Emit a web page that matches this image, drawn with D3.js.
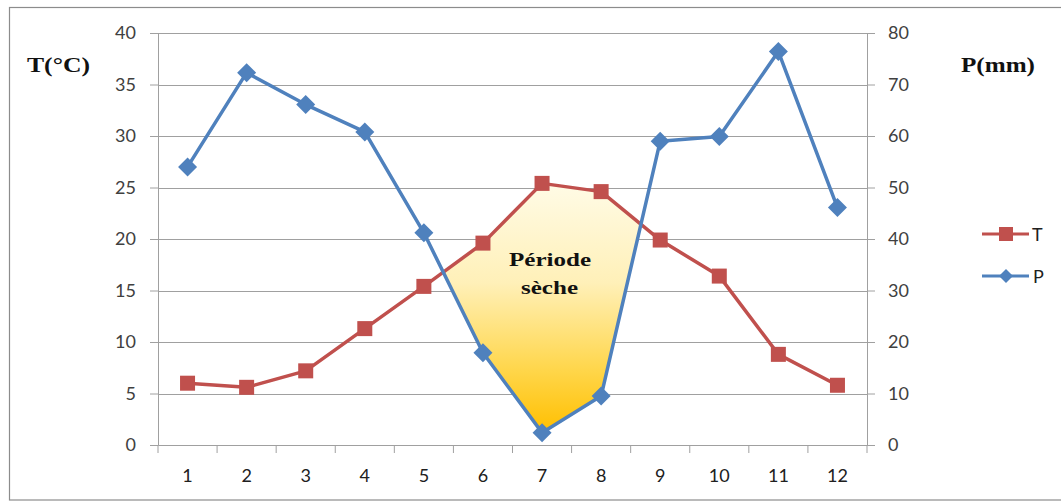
<!DOCTYPE html>
<html>
<head>
<meta charset="utf-8">
<script src="https://cdn.jsdelivr.net/npm/d3@7/dist/d3.min.js"></script>
<style>
  html, body { margin: 0; padding: 0; background: #fff; }
  svg { display: block; }
</style>
</head>
<body>
<svg id="chart" width="1061" height="502"></svg>
<script>
// Monthly climate data: temperature (°C) and precipitation (mm)
const months = [1, 2, 3, 4, 5, 6, 7, 8, 9, 10, 11, 12];
const temperature = [6.0, 5.6, 7.2, 11.3, 15.4, 19.6, 25.4, 24.6, 19.9, 16.4, 8.8, 5.8];
const precipitation = [54.0, 72.3, 66.1, 60.8, 41.2, 17.9, 2.4, 9.5, 59.0, 59.9, 76.4, 46.1];
const tempTicks = [0, 5, 10, 15, 20, 25, 30, 35, 40];
const precipTicks = [0, 10, 20, 30, 40, 50, 60, 70, 80];

const svg = d3.select("#chart");
const plotLeft = 158, plotRight = 867, plotTop = 33, plotBottom = 445;

const x = d3.scaleBand().domain(months).range([plotLeft, plotRight]);
const yT = d3.scaleLinear().domain([0, 40]).range([plotBottom, plotTop]);
const yP = d3.scaleLinear().domain([0, 80]).range([plotBottom, plotTop]);
const cx = m => x(m) + x.bandwidth() / 2;

const tickFont = "Lato, 'Open Sans', sans-serif";
const serifFont = "'Liberation Serif', serif";
const axisGray = "#a0a0a0";

// Outer frame
svg.append("rect")
  .attr("x", 9.5).attr("y", 7.5).attr("width", 1060).attr("height", 492.5)
  .attr("fill", "none").attr("stroke", "#8c8c8c").attr("stroke-width", 1.2);

// Horizontal gridlines
svg.append("g").selectAll("line").data(tempTicks.filter(d => d > 0)).join("line")
  .attr("x1", plotLeft).attr("x2", plotRight)
  .attr("y1", d => Math.round(yT(d)) + 0.5).attr("y2", d => Math.round(yT(d)) + 0.5)
  .attr("stroke", axisGray).attr("stroke-width", 1);

// Left axis
const gL = svg.append("g").attr("transform", `translate(${plotLeft},0)`)
  .call(d3.axisLeft(yT).tickValues(tempTicks).tickSize(8).tickPadding(14));
gL.select(".domain").attr("stroke", axisGray);
gL.selectAll(".tick line").attr("stroke", axisGray);
gL.selectAll(".tick text").attr("font-family", tickFont).attr("font-size", 18).attr("fill", "#404040");

// Right axis
const gR = svg.append("g").attr("transform", `translate(${plotRight},0)`)
  .call(d3.axisRight(yP).tickValues(precipTicks).tickSize(8).tickPadding(13));
gR.select(".domain").attr("stroke", axisGray);
gR.selectAll(".tick line").attr("stroke", axisGray);
gR.selectAll(".tick text").attr("font-family", tickFont).attr("font-size", 18).attr("fill", "#404040");

// Category axis: ticks at band boundaries, labels at band centres
const gX = svg.append("g").attr("transform", `translate(0,${plotBottom})`)
  .call(d3.axisBottom(x).tickSize(0).tickPadding(24));
gX.select(".domain").attr("stroke", axisGray);
gX.selectAll(".tick text").attr("font-family", tickFont).attr("font-size", 18).attr("fill", "#202020");
svg.append("g").selectAll("line").data(months.concat([13])).join("line")
  .attr("x1", m => m <= 12 ? x(m) : plotRight).attr("x2", m => m <= 12 ? x(m) : plotRight)
  .attr("y1", plotBottom).attr("y2", plotBottom + 8)
  .attr("stroke", axisGray);

// Axis titles (wide bold serif)
svg.append("text").text("T(°C)")
  .attr("x", 27).attr("y", 72).attr("textLength", 63).attr("lengthAdjust", "spacingAndGlyphs")
  .attr("font-family", serifFont).attr("font-weight", "bold")
  .attr("font-size", 21).attr("fill", "#111");
svg.append("text").text("P(mm)")
  .attr("x", 961).attr("y", 72).attr("textLength", 74).attr("lengthAdjust", "spacingAndGlyphs")
  .attr("font-family", serifFont).attr("font-weight", "bold")
  .attr("font-size", 21).attr("fill", "#111");

// Dry period: where the temperature curve (on the P = 2T scale) lies above precipitation
const pts = months.map((m, i) => ({ x: cx(m), t: yT(temperature[i]), p: yP(precipitation[i]) }));
const upper = [], lower = [];
for (let i = 0; i < pts.length - 1; i++) {
  const a = pts[i], b = pts[i + 1];
  const da = a.p - a.t, db = b.p - b.t; // positive when T curve is above P curve
  if (da > 0) { upper.push([a.x, a.t]); lower.push([a.x, a.p]); }
  if ((da > 0) !== (db > 0)) {
    const f = da / (da - db);
    const ix = a.x + f * (b.x - a.x), iy = a.t + f * (b.t - a.t);
    upper.push([ix, iy]); lower.push([ix, iy]);
  }
}
const dryPoly = upper.concat(lower.slice().reverse());

const defs = svg.append("defs");
const grad = defs.append("linearGradient").attr("id", "dryFill")
  .attr("x1", 0).attr("y1", 0).attr("x2", 0).attr("y2", 1);
grad.append("stop").attr("offset", "0%").attr("stop-color", "#fffbe6");
grad.append("stop").attr("offset", "40%").attr("stop-color", "#fff0b8");
grad.append("stop").attr("offset", "75%").attr("stop-color", "#ffd64a");
grad.append("stop").attr("offset", "100%").attr("stop-color", "#ffbf00");

svg.append("path")
  .attr("d", d3.line().curve(d3.curveLinearClosed)(dryPoly))
  .attr("fill", "url(#dryFill)").attr("stroke", "#f7c520").attr("stroke-width", 1.2);

// Series lines
const tColor = "#c0504d", pColor = "#4f81bd";
const lineT = d3.line().x((d, i) => cx(months[i])).y(d => yT(d));
const lineP = d3.line().x((d, i) => cx(months[i])).y(d => yP(d));

svg.append("path").attr("d", lineT(temperature))
  .attr("fill", "none").attr("stroke", tColor).attr("stroke-width", 3.5).attr("stroke-linejoin", "round");
svg.append("path").attr("d", lineP(precipitation))
  .attr("fill", "none").attr("stroke", pColor).attr("stroke-width", 3.5).attr("stroke-linejoin", "round");

// Markers
const sq = 15;
svg.append("g").selectAll("rect").data(temperature).join("rect")
  .attr("x", (d, i) => cx(months[i]) - sq / 2).attr("y", d => yT(d) - sq / 2)
  .attr("width", sq).attr("height", sq).attr("fill", tColor);
const dm = 9.5;
svg.append("g").selectAll("path").data(precipitation).join("path")
  .attr("transform", (d, i) => `translate(${cx(months[i])},${yP(d)})`)
  .attr("d", `M0,${-dm}L${dm},0L0,${dm}L${-dm},0Z`).attr("fill", pColor);

// Dry period label
const dryLabelAttrs = sel => sel
  .attr("font-family", serifFont).attr("font-weight", "bold")
  .attr("font-size", 18).attr("fill", "#111").attr("lengthAdjust", "spacingAndGlyphs");
svg.append("text").text("Période").call(dryLabelAttrs)
  .attr("x", 509).attr("y", 266).attr("textLength", 82);
svg.append("text").text("sèche").call(dryLabelAttrs)
  .attr("x", 521).attr("y", 294).attr("textLength", 57);

// Legend
const legend = svg.append("g");
legend.append("line").attr("x1", 982).attr("x2", 1029).attr("y1", 234).attr("y2", 234)
  .attr("stroke", tColor).attr("stroke-width", 3.2);
legend.append("rect").attr("x", 999).attr("y", 227).attr("width", 14).attr("height", 14).attr("fill", tColor);
legend.append("text").text("T").attr("x", 1032).attr("y", 241)
  .attr("font-family", tickFont).attr("font-size", 18).attr("fill", "#202020");
legend.append("line").attr("x1", 982).attr("x2", 1029).attr("y1", 276).attr("y2", 276)
  .attr("stroke", pColor).attr("stroke-width", 3.2);
legend.append("path").attr("transform", "translate(1006,276)")
  .attr("d", "M0,-7L7,0L0,7L-7,0Z").attr("fill", pColor);
legend.append("text").text("P").attr("x", 1033).attr("y", 283)
  .attr("font-family", tickFont).attr("font-size", 18).attr("fill", "#202020");
</script>
</body>
</html>
